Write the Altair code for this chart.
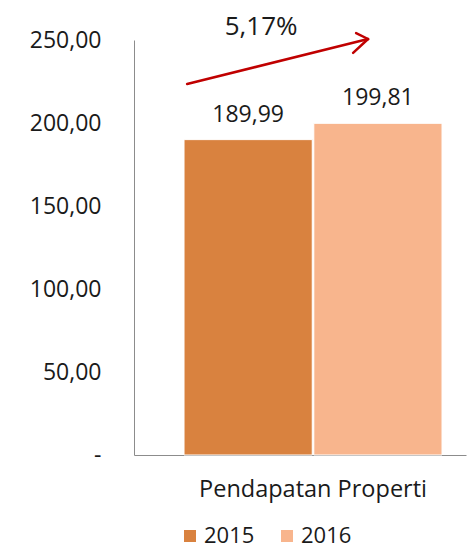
import altair as alt
import pandas as pd

# ---- data ----
category = ["Pendapatan Properti"]
years = ["2015", "2016"]
values = [189.99, 199.81]
value_labels = ["189,99", "199,81"]
growth_label = "5,17%"
y_ticks = [0, 50, 100, 150, 200, 250]
colors = ["#D9823F", "#F8B58D"]

# annotation arrow: (fraction of plot width, y value) pairs
arrow_x = [0.160, 0.705, 0.705]
arrow_y = [223.5, 250.6, 250.6]
arrow_x2 = [0.705, 0.669, 0.660]
arrow_y2 = [250.6, 254.2, 242.2]
growth_x = [0.383]
growth_y = [258.0]

FONT = "Open Sans"
TXT = "#1a1a1a"
AXC = "#8c8c8c"

bars_df = pd.DataFrame({
    "cat": category * len(years),
    "year": years,
    "value": values,
    "label": value_labels,
})
arrow_df = pd.DataFrame({"px": arrow_x, "px2": arrow_x2, "value": arrow_y, "value2": arrow_y2})
growth_df = pd.DataFrame({"px": growth_x, "value": growth_y, "label": [growth_label]})

y_enc = alt.Y(
    "value:Q",
    scale=alt.Scale(domain=[0, 250], nice=False, zero=True),
    axis=alt.Axis(
        values=y_ticks,
        labelExpr="datum.value == 0 ? '-' : replace(format(datum.value, '.2f'), '.', ',')",
        grid=False, ticks=False, labelPadding=33, domainColor=AXC, domainWidth=1,
        labelFontSize=23, labelColor=TXT, labelFont=FONT, title=None,
    ),
)

base = alt.Chart(bars_df).encode(
    x=alt.X(
        "cat:N",
        scale=alt.Scale(paddingOuter=0.1434, paddingInner=0, align=0.676),
        axis=alt.Axis(title=None, labelAngle=0, labelFontSize=23.5, labelPadding=22, labelLimit=0,
                      ticks=False, domainColor=AXC, labelColor=TXT, labelFont=FONT),
    ),
    xOffset=alt.XOffset("year:N", scale=alt.Scale(paddingInner=0.012, paddingOuter=0)),
    y=y_enc,
)

bars = base.mark_bar(stroke="white", strokeWidth=1).encode(
    color=alt.Color(
        "year:N",
        scale=alt.Scale(domain=years, range=colors),
        legend=alt.Legend(
            orient="none", legendX=45, legendY=485, direction="horizontal", title=None,
            symbolType="square", symbolSize=144, symbolStrokeWidth=0, symbolOpacity=1,
            labelFontSize=22, labelFont=FONT, labelColor=TXT, labelOffset=3, columnPadding=21,
        ),
    )
)
labels = base.mark_text(baseline="alphabetic", dy=-18, fontSize=23, font=FONT, color=TXT).encode(
    text="label:N"
)
bar_layer = alt.layer(bars, labels)

xq = alt.X("px:Q", scale=alt.Scale(domain=[0, 1], nice=False, zero=False), axis=None)

arrow = alt.Chart(arrow_df).mark_rule(color="#C00000", strokeWidth=2.5, strokeCap="round").encode(
    x=xq, x2="px2:Q", y=y_enc, y2="value2:Q"
)
growth = alt.Chart(growth_df).mark_text(fontSize=26, font=FONT, color=TXT, baseline="middle").encode(
    x=xq, y=y_enc, text="label:N"
)

chart = (
    alt.layer(bar_layer, arrow, growth)
    .resolve_scale(x="independent")
    .properties(
        width=332, height=415,
        autosize=alt.AutoSizeParams(type="none"),
        padding={"left": 126, "top": 32, "right": 2, "bottom": 97},
    )
    .configure(font=FONT)
    .configure_view(stroke=None)
)

chart.save("out.html", embed_options={"renderer": "svg", "actions": False})
